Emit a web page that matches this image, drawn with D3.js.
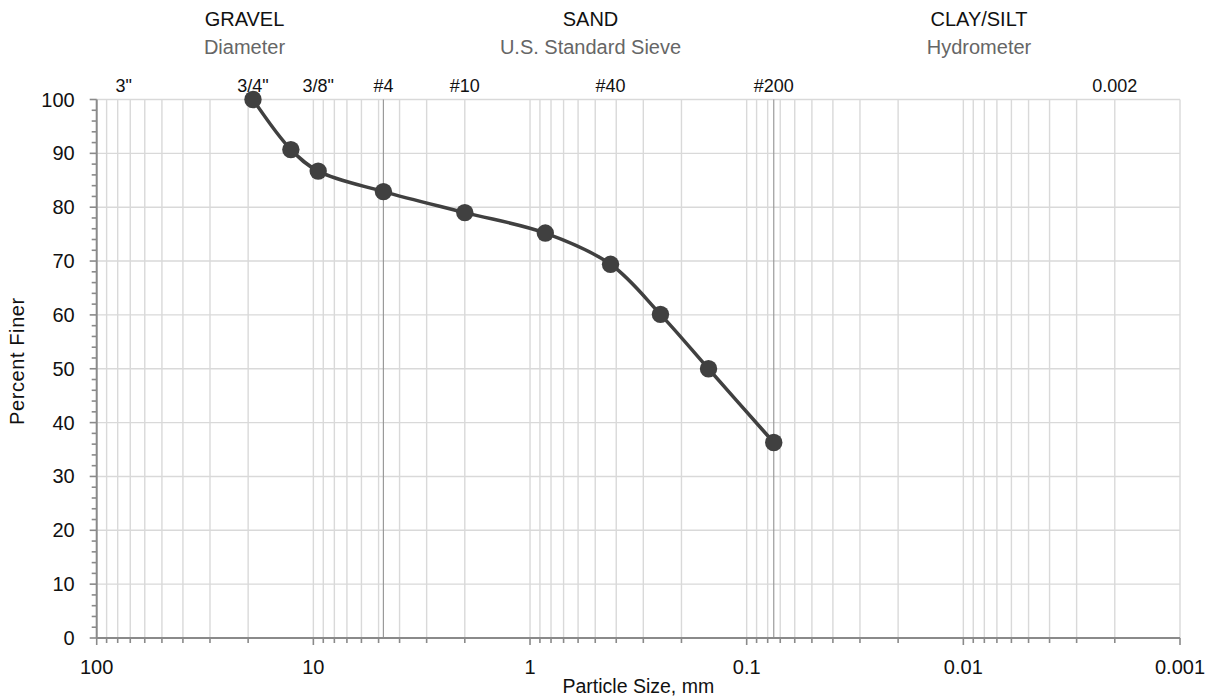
<!DOCTYPE html>
<html>
<head>
<meta charset="utf-8">
<script src="https://cdn.jsdelivr.net/npm/d3@7"></script>
<style>
  html, body { margin: 0; padding: 0; background: #fff; }
  svg { display: block; font-family: "Liberation Sans", Arial, sans-serif; }
</style>
</head>
<body>
<svg id="chart" width="1205" height="700"></svg>
<script>
// Grain size distribution: sieve sizes (mm) and percent passing
const sieveSizes   = [19, 12.7, 9.5, 4.75, 2.0, 0.85, 0.425, 0.25, 0.15, 0.075];
const percentFiner = [100, 90.7, 86.7, 82.9, 79.0, 75.2, 69.4, 60.1, 50.0, 36.3];

// Reference sieve designations shown along the top
const sieveLabels     = ['3"', '3/4"', '3/8"', '#4', '#10', '#40', '#200', '0.002'];
const sieveLabelSizes = [75, 19, 9.5, 4.75, 2.0, 0.425, 0.075, 0.002];

// Soil class boundaries (#4 and #200 sieves)
const boundarySizes = [4.75, 0.075];

// Soil class headings and the test method for each range
const soilClasses = ["GRAVEL", "SAND", "CLAY/SILT"];
const testMethods = ["Diameter", "U.S. Standard Sieve", "Hydrometer"];

// Axis tick labels
const xTickValues = [100, 10, 1, 0.1, 0.01, 0.001];
const xTickLabels = ["100", "10", "1", "0.1", "0.01", "0.001"];
const yTickValues = [0, 10, 20, 30, 40, 50, 60, 70, 80, 90, 100];

const svg = d3.select("#chart");
const plot = { left: 96.7, right: 1180, top: 99.5, bottom: 638 };
const headerX = [244.5, 590.5, 979];

const x = d3.scaleLog().domain([100, 0.001]).range([plot.left, plot.right]);
const y = d3.scaleLinear().domain([0, 100]).range([plot.bottom, plot.top]);

const gridColor = "#d9d9d9";
const axisColor = "#8a8a8a";

// Vertical log grid (every 1..9 step of each decade)
const logTicks = x.ticks();
svg.append("g").selectAll("line").data(logTicks).join("line")
  .attr("x1", d => x(d)).attr("x2", d => x(d))
  .attr("y1", plot.top).attr("y2", plot.bottom)
  .attr("stroke", gridColor).attr("stroke-width", 1.4);

// Horizontal grid
svg.append("g").selectAll("line").data(yTickValues).join("line")
  .attr("x1", plot.left).attr("x2", plot.right)
  .attr("y1", d => y(d)).attr("y2", d => y(d))
  .attr("stroke", gridColor).attr("stroke-width", 1.4);

// Class boundary lines
svg.append("g").selectAll("line").data(boundarySizes).join("line")
  .attr("x1", d => x(d)).attr("x2", d => x(d))
  .attr("y1", plot.top).attr("y2", plot.bottom)
  .attr("stroke", "#9a9a9a").attr("stroke-width", 1.2);

// Y axis with 2% minor ticks
const yMinor = d3.range(0, 101, 2);
const yAxis = svg.append("g");
yAxis.selectAll("line.minor").data(yMinor).join("line")
  .attr("class", "minor")
  .attr("x1", d => plot.left - (d % 10 === 0 ? 7 : 5)).attr("x2", plot.left)
  .attr("y1", d => y(d)).attr("y2", d => y(d))
  .attr("stroke", axisColor).attr("stroke-width", 1.6);
yAxis.append("line")
  .attr("x1", plot.left).attr("x2", plot.left)
  .attr("y1", plot.top).attr("y2", plot.bottom)
  .attr("stroke", axisColor).attr("stroke-width", 2);
yAxis.selectAll("text").data(yTickValues).join("text")
  .attr("x", plot.left - 22).attr("y", d => y(d))
  .attr("dy", "0.35em").attr("text-anchor", "end")
  .attr("font-size", 20).attr("fill", "#111")
  .text(d => d);

// X axis with log minor ticks
const xAxis = svg.append("g");
xAxis.selectAll("line.tick").data(logTicks).join("line")
  .attr("class", "tick")
  .attr("x1", d => x(d)).attr("x2", d => x(d))
  .attr("y1", plot.bottom).attr("y2", d => plot.bottom + (xTickValues.includes(d) ? 7 : 5))
  .attr("stroke", axisColor).attr("stroke-width", 1.6);
xAxis.append("line")
  .attr("x1", plot.left).attr("x2", plot.right)
  .attr("y1", plot.bottom).attr("y2", plot.bottom)
  .attr("stroke", axisColor).attr("stroke-width", 2);
xAxis.selectAll("text").data(xTickValues).join("text")
  .attr("x", d => x(d)).attr("y", plot.bottom + 36)
  .attr("text-anchor", "middle")
  .attr("font-size", 20).attr("fill", "#111")
  .text((d, i) => xTickLabels[i]);

// Axis titles
svg.append("text")
  .attr("x", (plot.left + plot.right) / 2).attr("y", 693)
  .attr("text-anchor", "middle").attr("font-size", 19.5).attr("fill", "#111")
  .text("Particle Size, mm");
svg.append("text")
  .attr("transform", "translate(24, 425) rotate(-90)")
  .attr("text-anchor", "start").attr("font-size", 20).attr("letter-spacing", 0.6)
  .attr("fill", "#111")
  .text("Percent Finer");

// Sieve designations along the top
svg.append("g").selectAll("text").data(sieveLabels).join("text")
  .attr("x", (d, i) => x(sieveLabelSizes[i])).attr("y", 92)
  .attr("text-anchor", "middle").attr("font-size", 18).attr("fill", "#111")
  .text(d => d);

// Soil class headings
svg.append("g").selectAll("text").data(soilClasses).join("text")
  .attr("x", (d, i) => headerX[i]).attr("y", 26)
  .attr("text-anchor", "middle").attr("font-size", 20).attr("fill", "#111")
  .text(d => d);
svg.append("g").selectAll("text").data(testMethods).join("text")
  .attr("x", (d, i) => headerX[i]).attr("y", 54)
  .attr("text-anchor", "middle").attr("font-size", 20).attr("fill", "#666")
  .text(d => d);

// Gradation curve
const points = sieveSizes.map((s, i) => [s, percentFiner[i]]);
const line = d3.line()
  .x(d => x(d[0])).y(d => y(d[1]))
  .curve(d3.curveCatmullRom.alpha(0.5));
svg.append("path")
  .datum(points)
  .attr("d", line)
  .attr("fill", "none").attr("stroke", "#404040").attr("stroke-width", 3.5)
  .attr("stroke-linejoin", "round");
svg.append("g").selectAll("circle").data(points).join("circle")
  .attr("cx", d => x(d[0])).attr("cy", d => y(d[1]))
  .attr("r", 8.7).attr("fill", "#404040");
</script>
</body>
</html>
